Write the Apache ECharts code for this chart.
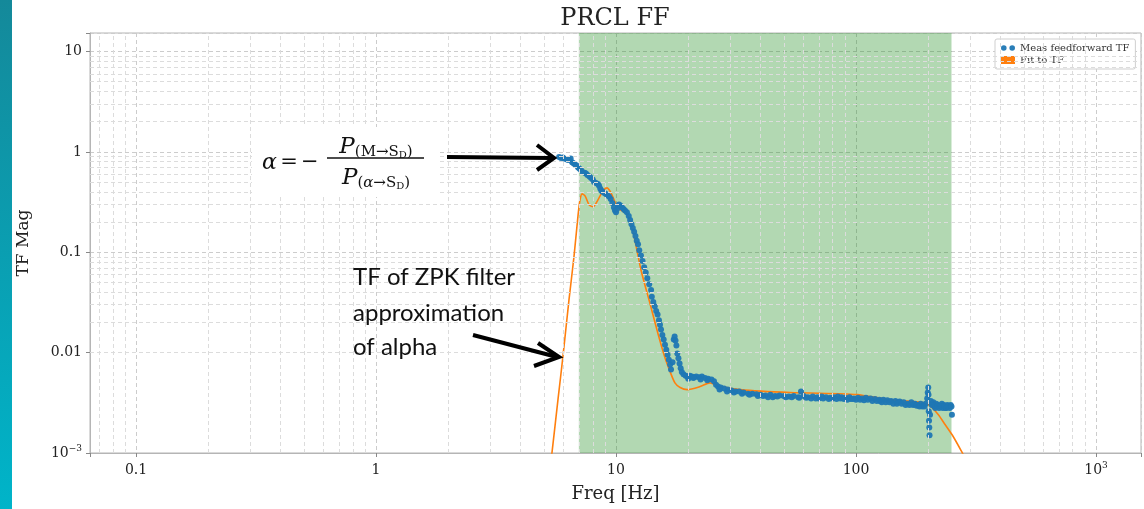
<!DOCTYPE html>
<html><head><meta charset="utf-8">
<script src="https://cdn.jsdelivr.net/npm/echarts@6/dist/echarts.min.js"></script>
<style>html,body{margin:0;padding:0;background:#fff;}#c{width:1144px;height:509px;}</style>
</head><body><div id="c"></div>
<script>
// ---- data ----
const measFreq = [5.79,5.9,6.0,6.07,6.2,6.3,6.37,6.47,6.56,6.65,6.75,6.85,6.95,7.05,7.15,7.25,7.4,7.5,7.6,7.75,7.87,8.0,8.1,8.25,8.4,8.5,8.6,8.7,8.8,8.95,9.08,9.2,9.35,9.5,9.65,9.8,9.9,10.0,10.1,10.2,10.3,10.45,10.6,10.75,10.9,11.1,11.3,11.45,11.6,11.75,11.9,12.05,12.2,12.35,12.5,12.7,12.9,13.1,13.3,13.5,13.75,14.0,14.1,14.3,14.5,14.7,14.9,15.1,15.25,15.4,15.6,15.8,16.0,16.2,16.4,16.6,16.8,16.95,17.2,17.4,17.55,17.7,17.85,18.0,18.2,18.4,18.6,18.8,19.1,19.5,19.8,20.3,20.7,21.2,21.6,22.2,22.8,23.5,24.2,25.0,25.6,26.1,26.6,27.3,28.2,29.2,30.3,31.5,32.6,34.0,35.5,37.0,38.5,40.0,42.0,44.0,45.0,46.0,48.0,50.0,52.5,55.0,57.5,59.0,60.5,63.0,66.0,69.0,70.0,72.0,75.0,78.0,81.0,84.0,87.0,90.0,94.0,95.0,98.0,102,106,110,115,120,125,125.5,130,135,140,146,150,152,158,164,170,175,176,181,186,191,195,198,199,200,200.5,201,201.5,202,202.5,203.5,205,208,210,212,216,220,224,228,230,232,236,240,244,248,251,
  20.0,21.0,22.5,24.0,27.0,29.0,31.0,33.5,36.0,39.0,41.0,43.0,47.0,51.0,54.0,58.0,62.0,65.0,68.0,73.0,77.0,80.0,83.0,86.0,89.0,92.0,97.0,100,104,108,112,117,122,128,133,138,143,148,155,161,167,173,179,184,189,193,207,214,218,222,226,234,238,242,246,250];
const measMag = [0.89,0.87,0.88,0.86,0.85,0.83,0.84,0.86,0.79,0.77,0.75,0.73,0.70,0.68,0.66,0.63,0.62,0.61,0.59,0.57,0.55,0.53,0.50,0.49,0.48,0.46,0.43,0.41,0.40,0.39,0.38,0.37,0.36,0.34,0.31,0.28,0.26,0.25,0.27,0.29,0.30,0.29,0.28,0.27,0.26,0.25,0.23,0.21,0.19,0.175,0.16,0.145,0.13,0.12,0.105,0.093,0.082,0.071,0.063,0.055,0.048,0.042,0.036,0.032,0.029,0.026,0.024,0.021,0.019,0.017,0.015,0.0135,0.012,0.0107,0.0095,0.0085,0.0076,0.0068,0.0080,0.0135,0.0145,0.0132,0.0118,0.0098,0.0088,0.0078,0.0070,0.0064,0.0061,0.0059,0.0058,0.0059,0.0058,0.0057,0.0058,0.0057,0.0058,0.0056,0.0055,0.0054,0.0052,0.0048,0.0046,0.0045,0.0044,0.0043,0.0042,0.0041,0.0041,0.0040,0.0039,0.0039,0.00385,0.0038,0.00375,0.0038,0.0036,0.0037,0.00375,0.0037,0.00365,0.0037,0.0036,0.0041,0.0037,0.0036,0.00365,0.0036,0.0035,0.00365,0.0036,0.00355,0.0036,0.00365,0.0036,0.00355,0.0036,0.00345,0.0035,0.00355,0.0035,0.00355,0.0035,0.00345,0.0034,0.0033,0.0034,0.00335,0.0033,0.0033,0.0032,0.00325,0.0032,0.0031,0.0032,0.00305,0.0031,0.0030,0.0031,0.0030,0.0031,0.0035,0.0040,0.0045,0.0038,0.0026,0.0021,0.0018,0.0015,0.0024,0.0033,0.0031,0.0032,0.0029,0.0031,0.0030,0.0029,0.0031,0.0028,0.0030,0.0028,0.0030,0.0029,0.0030,0.0024,
  0.0055,0.0056,0.0054,0.0053,0.0043,0.0041,0.0040,0.0039,0.0038,0.0037,0.0037,0.0036,0.00365,0.0036,0.0036,0.00355,0.00355,0.0035,0.0035,0.0035,0.00345,0.0035,0.00345,0.0035,0.00345,0.0034,0.00345,0.0034,0.0034,0.00335,0.0034,0.0033,0.0033,0.0032,0.0032,0.0032,0.0031,0.0031,0.0031,0.0030,0.0030,0.0030,0.00295,0.0029,0.0029,0.0029,0.0030,0.0028,0.0029,0.0028,0.0029,0.0029,0.0028,0.0029,0.0028,0.0029];
const fitFreq = [5.3,5.41,5.73,6.02,6.37,6.68,6.95,7.08,7.22,7.43,7.72,8.02,8.41,8.83,9.17,9.53,9.9,10.4,11.1,11.8,12.7,13.9,15.0,16.0,16.8,17.6,18.5,19.8,22.4,24.6,26.4,32.9,53.1,85.7,101,139,190,203,220,235,254,277,287];
const fitMag = [0.0007,0.00101,0.0034,0.0095,0.0337,0.090,0.236,0.333,0.382,0.365,0.297,0.284,0.333,0.41,0.438,0.391,0.318,0.265,0.242,0.156,0.067,0.030,0.0151,0.0089,0.00647,0.0050,0.00449,0.00428,0.00459,0.0050,0.0047,0.00428,0.0040,0.0039,0.00382,0.0034,0.00318,0.00297,0.00242,0.00192,0.00146,0.00101,0.00086];
const bandRange = [7, 250];
const xRange = [0.0643, 1540];
const yRange = [0.001, 15.3];
const xTickLabels = {'-1':'{b|0.1}','0':'{b|1}','1':'{b|10}','2':'{b|100}','3':'{b|10}{sup|3}'};
const yTickLabels = {'-3':'{b|10}{sup|−3}','-2':'{b|0.01}','-1':'{b|0.1}','0':'{b|1}','1':'{b|10}'};
const minorMult = [2,3,4,5,6,7,8,9];
const xDecades = [0.01,0.1,1,10,100,1000];
const yDecades = [0.001,0.01,0.1,1];
const seriesNames = ['Meas feedforward TF','Fit to TF'];

const xMinor = [], yMinor = [];
xDecades.forEach(d => minorMult.forEach(m => { const v = d*m; if (v > xRange[0] && v < xRange[1]) xMinor.push(v); }));
yDecades.forEach(d => minorMult.forEach(m => { const v = d*m; if (v > yRange[0] && v < yRange[1]) yMinor.push(v); }));

const SERIF = 'DejaVu Serif';
function powLabel(map) {
  return function (v) {
    const e = Math.log10(v);
    const r = Math.round(e);
    if (Math.abs(e - r) > 1e-6) return '';
    return map[String(r)] || '';
  };
}
const richTick = {
  b: {fontFamily: SERIF, fontSize: 14, color: '#222', lineHeight: 18, verticalAlign: 'middle'},
  sup: {fontFamily: SERIF, fontSize: 9, color: '#222', lineHeight: 9, verticalAlign: 'top'}
};

const chart = echarts.init(document.getElementById('c'), null, {renderer: 'canvas'});
const G = {left: 90, right: 3, top: 33, bottom: 56};

chart.setOption({
  animation: false,
  backgroundColor: '#ffffff',
  grid: {left: G.left, right: G.right, top: G.top, bottom: G.bottom, show: true, borderColor: '#b5b5b5', borderWidth: 1, backgroundColor: 'transparent'},
  legend: {
    orient: 'vertical', left: 995, top: 39,
    backgroundColor: '#ffffff', borderColor: '#cfcfcf', borderWidth: 1, borderRadius: 2,
    padding: [4, 6, 4, 6], itemGap: 2, itemWidth: 14, itemHeight: 8,
    textStyle: {fontFamily: SERIF, fontSize: 10, color: '#333'},
    data: [
      {name: seriesNames[0], icon: 'path://M0,3a3,3 0 1,0 6,0a3,3 0 1,0 -6,0M9,3a3,3 0 1,0 6,0a3,3 0 1,0 -6,0', itemStyle: {color: '#1f77b4'}},
      {name: seriesNames[1], icon: 'rect', itemStyle: {color: '#ff7f0e'}}
    ]
  },
  xAxis: {
    type: 'log', logBase: 10, min: xRange[0], max: xRange[1],
    name: 'Freq [Hz]', nameLocation: 'middle', nameGap: 32,
    nameTextStyle: {fontFamily: SERIF, fontSize: 18, color: '#222'},
    axisLine: {show: true, onZero: false, lineStyle: {color: '#b5b5b5'}},
    axisTick: {show: true, inside: false, length: 4, lineStyle: {color: '#888'}},
    axisLabel: {margin: 8, formatter: powLabel(xTickLabels), rich: richTick, color: '#222'},
    splitLine: {show: true, lineStyle: {color: '#cccccc', type: [4, 3], width: 1}},
    minorTick: {show: false}
  },
  yAxis: {
    type: 'log', logBase: 10, min: yRange[0], max: yRange[1],
    name: 'TF Mag', nameLocation: 'middle', nameGap: 58,
    nameTextStyle: {fontFamily: SERIF, fontSize: 17, color: '#222'},
    axisLine: {show: true, onZero: false, lineStyle: {color: '#b5b5b5'}},
    axisTick: {show: true, inside: false, length: 4, lineStyle: {color: '#888'}},
    axisLabel: {margin: 8, formatter: powLabel(yTickLabels), rich: richTick, color: '#222'},
    splitLine: {show: true, lineStyle: {color: '#cccccc', type: [4, 3], width: 1}}
  },
  series: [
    {
      name: '_grid', type: 'line', data: [], silent: true, z: 1,
      markArea: {silent: true, itemStyle: {color: 'rgba(30,140,30,0.34)'},
        data: [[{xAxis: bandRange[0]}, {xAxis: bandRange[1]}]]},
      markLine: {silent: true, symbol: ['none', 'none'], label: {show: false},
        lineStyle: {color: '#dcdcdc', type: [4, 3], width: 1},
        data: xMinor.map(v => ({xAxis: v})).concat(yMinor.map(v => ({yAxis: v})))}
    },
    {
      name: seriesNames[1], type: 'line', z: 3, smooth: 0.25, showSymbol: false, clip: true,
      data: fitFreq.map((f, i) => [f, fitMag[i]]),
      lineStyle: {color: '#ff7f0e', width: 1.6}, itemStyle: {color: '#ff7f0e'}
    },
    {
      name: seriesNames[0], type: 'scatter', z: 4, symbolSize: 6,
      data: measFreq.map((f, i) => [f, measMag[i]]),
      itemStyle: {color: '#1f77b4', opacity: 0.95}
    }
  ],
  graphic: [
    {type: 'rect', left: 0, top: 0, z: 100, shape: {width: 12, height: 509},
      style: {fill: new echarts.graphic.LinearGradient(0, 0, 0, 1, [{offset: 0, color: '#14899a'}, {offset: 1, color: '#00b4c9'}])}},
    {type: 'text', x: 615, y: 19, z: 100, style: {text: 'PRCL FF', font: '24px "DejaVu Serif"', fill: '#222', align: 'center', verticalAlign: 'middle'}},
    // formula box
    {type: 'rect', x: 252, y: 127, z: 90, shape: {width: 188, height: 70}, style: {fill: '#ffffff'}},
    {type: 'text', x: 262, y: 163, z: 100, style: {
      text: '{a|α} {o|=} {o|−}', align: 'left', verticalAlign: 'middle',
      rich: {a: {font: 'italic 22px "DejaVu Serif"', fill: '#111'}, o: {font: '21px "DejaVu Serif"', fill: '#111'}}}},
    {type: 'text', x: 376, y: 147, z: 100, style: {
      text: '{p|P}{s|(M→S}{d|D}{s|)}', align: 'center', verticalAlign: 'middle',
      rich: {p: {font: 'italic 23px "DejaVu Serif"', fill: '#111', lineHeight: 26, verticalAlign: 'middle'},
             s: {font: '15px "DejaVu Serif"', fill: '#111', lineHeight: 15, verticalAlign: 'bottom'},
             d: {font: '10px "DejaVu Serif"', fill: '#111', lineHeight: 9, verticalAlign: 'bottom'}}}},
    {type: 'line', z: 100, shape: {x1: 327, y1: 158, x2: 424, y2: 158}, style: {stroke: '#111', lineWidth: 1.3}},
    {type: 'text', x: 376, y: 178, z: 100, style: {
      text: '{p|P}{s|(}{a|α}{s|→S}{d|D}{s|)}', align: 'center', verticalAlign: 'middle',
      rich: {p: {font: 'italic 23px "DejaVu Serif"', fill: '#111', lineHeight: 26, verticalAlign: 'middle'},
             s: {font: '15px "DejaVu Serif"', fill: '#111', lineHeight: 15, verticalAlign: 'bottom'},
             a: {font: 'italic 15px "DejaVu Serif"', fill: '#111', lineHeight: 15, verticalAlign: 'bottom'},
             d: {font: '10px "DejaVu Serif"', fill: '#111', lineHeight: 9, verticalAlign: 'bottom'}}}},
    // arrow 1
    {type: 'polyline', z: 100, shape: {points: [[447, 157], [551, 158]]}, style: {stroke: '#000', lineWidth: 4, fill: null}},
    {type: 'polyline', z: 100, shape: {points: [[537, 145], [554, 158], [537, 170]]}, style: {stroke: '#000', lineWidth: 4, fill: null, lineJoin: 'miter'}},
    // text annotation
    {type: 'text', x: 353, y: 277, z: 100, style: {text: 'TF of ZPK filter', font: '24px Lato', fill: '#111', verticalAlign: 'middle'}},
    {type: 'text', x: 353, y: 313, z: 100, style: {text: 'approximation', font: '24px Lato', fill: '#111', verticalAlign: 'middle'}},
    {type: 'text', x: 353, y: 347, z: 100, style: {text: 'of alpha', font: '24px Lato', fill: '#111', verticalAlign: 'middle'}},
    // arrow 2
    {type: 'polyline', z: 100, shape: {points: [[473, 335], [557, 357]]}, style: {stroke: '#000', lineWidth: 4, fill: null}},
    {type: 'polyline', z: 100, shape: {points: [[538, 343], [559, 357], [534, 366]]}, style: {stroke: '#000', lineWidth: 4, fill: null, lineJoin: 'miter'}}
  ]
});
</script>
</body></html>
